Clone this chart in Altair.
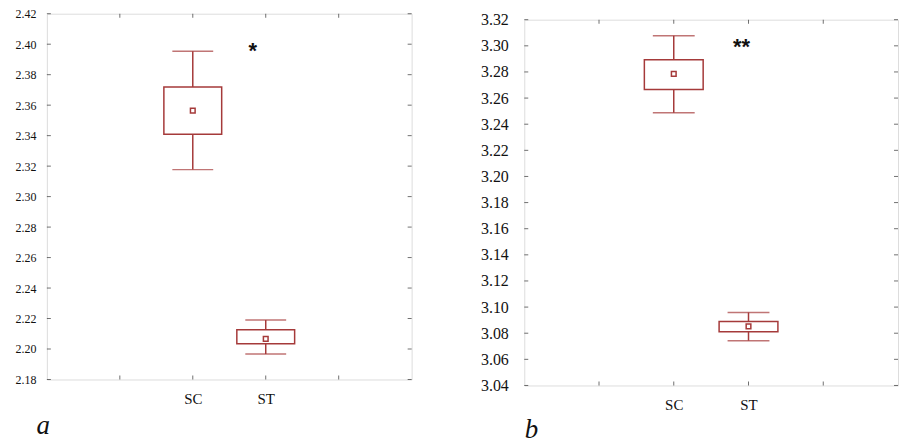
import altair as alt
import pandas as pd

# ---- data ----
groups = ["SC", "ST"]
slots = ["_1", "SC", "ST", "_4"]          # four x-slots of the category axis

a_whisk_low = [2.3177, 2.1967]
a_box_low = [2.3409, 2.2035]
a_mean = [2.3564, 2.2067]
a_box_high = [2.3719, 2.2127]
a_whisk_high = [2.3953, 2.2190]
a_ticks = [2.18, 2.20, 2.22, 2.24, 2.26, 2.28, 2.30, 2.32, 2.34, 2.36, 2.38, 2.40, 2.42]
a_sig, a_sig_y = "*", 2.396

b_whisk_low = [3.2488, 3.0743]
b_box_low = [3.2666, 3.0812]
b_mean = [3.2785, 3.0852]
b_box_high = [3.2894, 3.0890]
b_whisk_high = [3.3077, 3.0959]
b_ticks = [3.04, 3.06, 3.08, 3.10, 3.12, 3.14, 3.16, 3.18, 3.20, 3.22, 3.24, 3.26, 3.28, 3.30, 3.32]
b_sig, b_sig_y = "**", 3.300

COL = "#a53a3a"
FONT = "Liberation Serif"


def panel(wl, bl, mn, bh, wh, ticks, sig, sig_y, letter, W, H, lab_size,
          lab_pad, extent, box_w, cap_w, sig_dx, letter_x, letter_y):
    df = pd.DataFrame({"g": groups, "wl": wl, "bl": bl, "mn": mn, "bh": bh, "wh": wh})
    dom = [ticks[0], ticks[-1]]
    xs = alt.Scale(type="point", domain=slots, padding=1)
    ys = alt.Scale(domain=dom, nice=False, zero=False)
    xaxis = alt.Axis(values=groups, title=letter, labelAngle=0, ticks=False,
                     domain=False, labelFont=FONT, labelFontSize=15,
                     labelColor="#111", labelPadding=12,
                     titleFont=FONT, titleFontSize=27, titleFontStyle="italic",
                     titleFontWeight="normal", titleColor="#111",
                     titleAnchor="start", titleAlign="left",
                     titleBaseline="alphabetic",
                     titleX=letter_x, titleY=letter_y)
    yaxis = alt.Axis(values=ticks, format=".2f", title=None, grid=False, ticks=False,
                     domain=False, labelFont=FONT, labelFontSize=lab_size,
                     labelColor="#111", labelPadding=lab_pad, labelOverlap=False,
                     minExtent=extent, maxExtent=extent)

    def X(f):
        return alt.X(f, scale=xs, axis=xaxis)

    def Y(f):
        return alt.Y(f, scale=ys, axis=yaxis)

    base = alt.Chart(df)
    whisk_lo = base.mark_rule(color=COL, strokeWidth=1.5).encode(
        x=X("g:N"), y=Y("wl:Q"), y2="bl:Q")
    whisk_hi = base.mark_rule(color=COL, strokeWidth=1.5).encode(
        x=X("g:N"), y=Y("bh:Q"), y2="wh:Q")
    box = base.mark_bar(fill="white", stroke=COL, strokeWidth=1.5, size=box_w).encode(
        x=X("g:N"), y=Y("bl:Q"), y2="bh:Q")
    cap_lo = base.mark_tick(color=COL, thickness=1.5, size=cap_w, orient="horizontal").encode(
        x=X("g:N"), y=Y("wl:Q"))
    cap_hi = base.mark_tick(color=COL, thickness=1.5, size=cap_w, orient="horizontal").encode(
        x=X("g:N"), y=Y("wh:Q"))
    mean = base.mark_square(filled=False, color=COL, strokeWidth=1.5, size=22, opacity=1).encode(
        x=X("g:N"), y=Y("mn:Q"))
    sdf = pd.DataFrame({"g": [groups[1]], "y": [sig_y], "t": [sig]})
    star = alt.Chart(sdf).mark_text(font="Liberation Sans", fontWeight="bold", fontSize=22,
                                    color="#111", dx=sig_dx, dy=1, baseline="middle").encode(
        x=X("g:N"), y=Y("y:Q"), text="t:N")
    # small inward ticks on the frame
    tdf = pd.DataFrame({"v": ticks})
    ytick_l = alt.Chart(tdf).mark_tick(color="#333", size=4, thickness=1, orient="horizontal").encode(
        x=alt.value(2), y=Y("v:Q"))
    ytick_r = alt.Chart(tdf).mark_tick(color="#333", size=4, thickness=1, orient="horizontal").encode(
        x=alt.value(W - 2), y=Y("v:Q"))
    xdf = pd.DataFrame({"s": slots})
    xtick_b = alt.Chart(xdf).mark_tick(color="#333", size=4, thickness=1, orient="vertical").encode(
        x=X("s:N"), y=alt.value(H - 2))
    xtick_t = alt.Chart(xdf).mark_tick(color="#333", size=4, thickness=1, orient="vertical").encode(
        x=X("s:N"), y=alt.value(2))
    return alt.layer(whisk_lo, whisk_hi, box, cap_lo, cap_hi, mean, star,
                     ytick_l, ytick_r, xtick_b, xtick_t).properties(width=W, height=H)


left = panel(a_whisk_low, a_box_low, a_mean, a_box_high, a_whisk_high, a_ticks,
             a_sig, a_sig_y, "a", 366, 367, 12, 11, 38, 58, 41, -13, -11, 54)
right = panel(b_whisk_low, b_box_low, b_mean, b_box_high, b_whisk_high, b_ticks,
              b_sig, b_sig_y, "b", 375, 367, 16, 16, 45, 59, 42, -7, 0, 52)

# invisible spacer that lowers panel b a little relative to panel a
spacer = alt.Chart(pd.DataFrame({"t": [""]})).mark_text().encode(
    text="t:N").properties(width=375, height=1,
                           view=alt.ViewBackground(stroke="transparent"))

chart = alt.hconcat(left, alt.vconcat(spacer, right, spacing=-12), spacing=66).properties(
    padding={"left": 0, "top": -2, "right": 0, "bottom": 0}
).configure_view(stroke="#3a3a3a", strokeWidth=1.5).configure(background="white")

chart.save("out.html", embed_options={"renderer": "svg", "actions": False})
